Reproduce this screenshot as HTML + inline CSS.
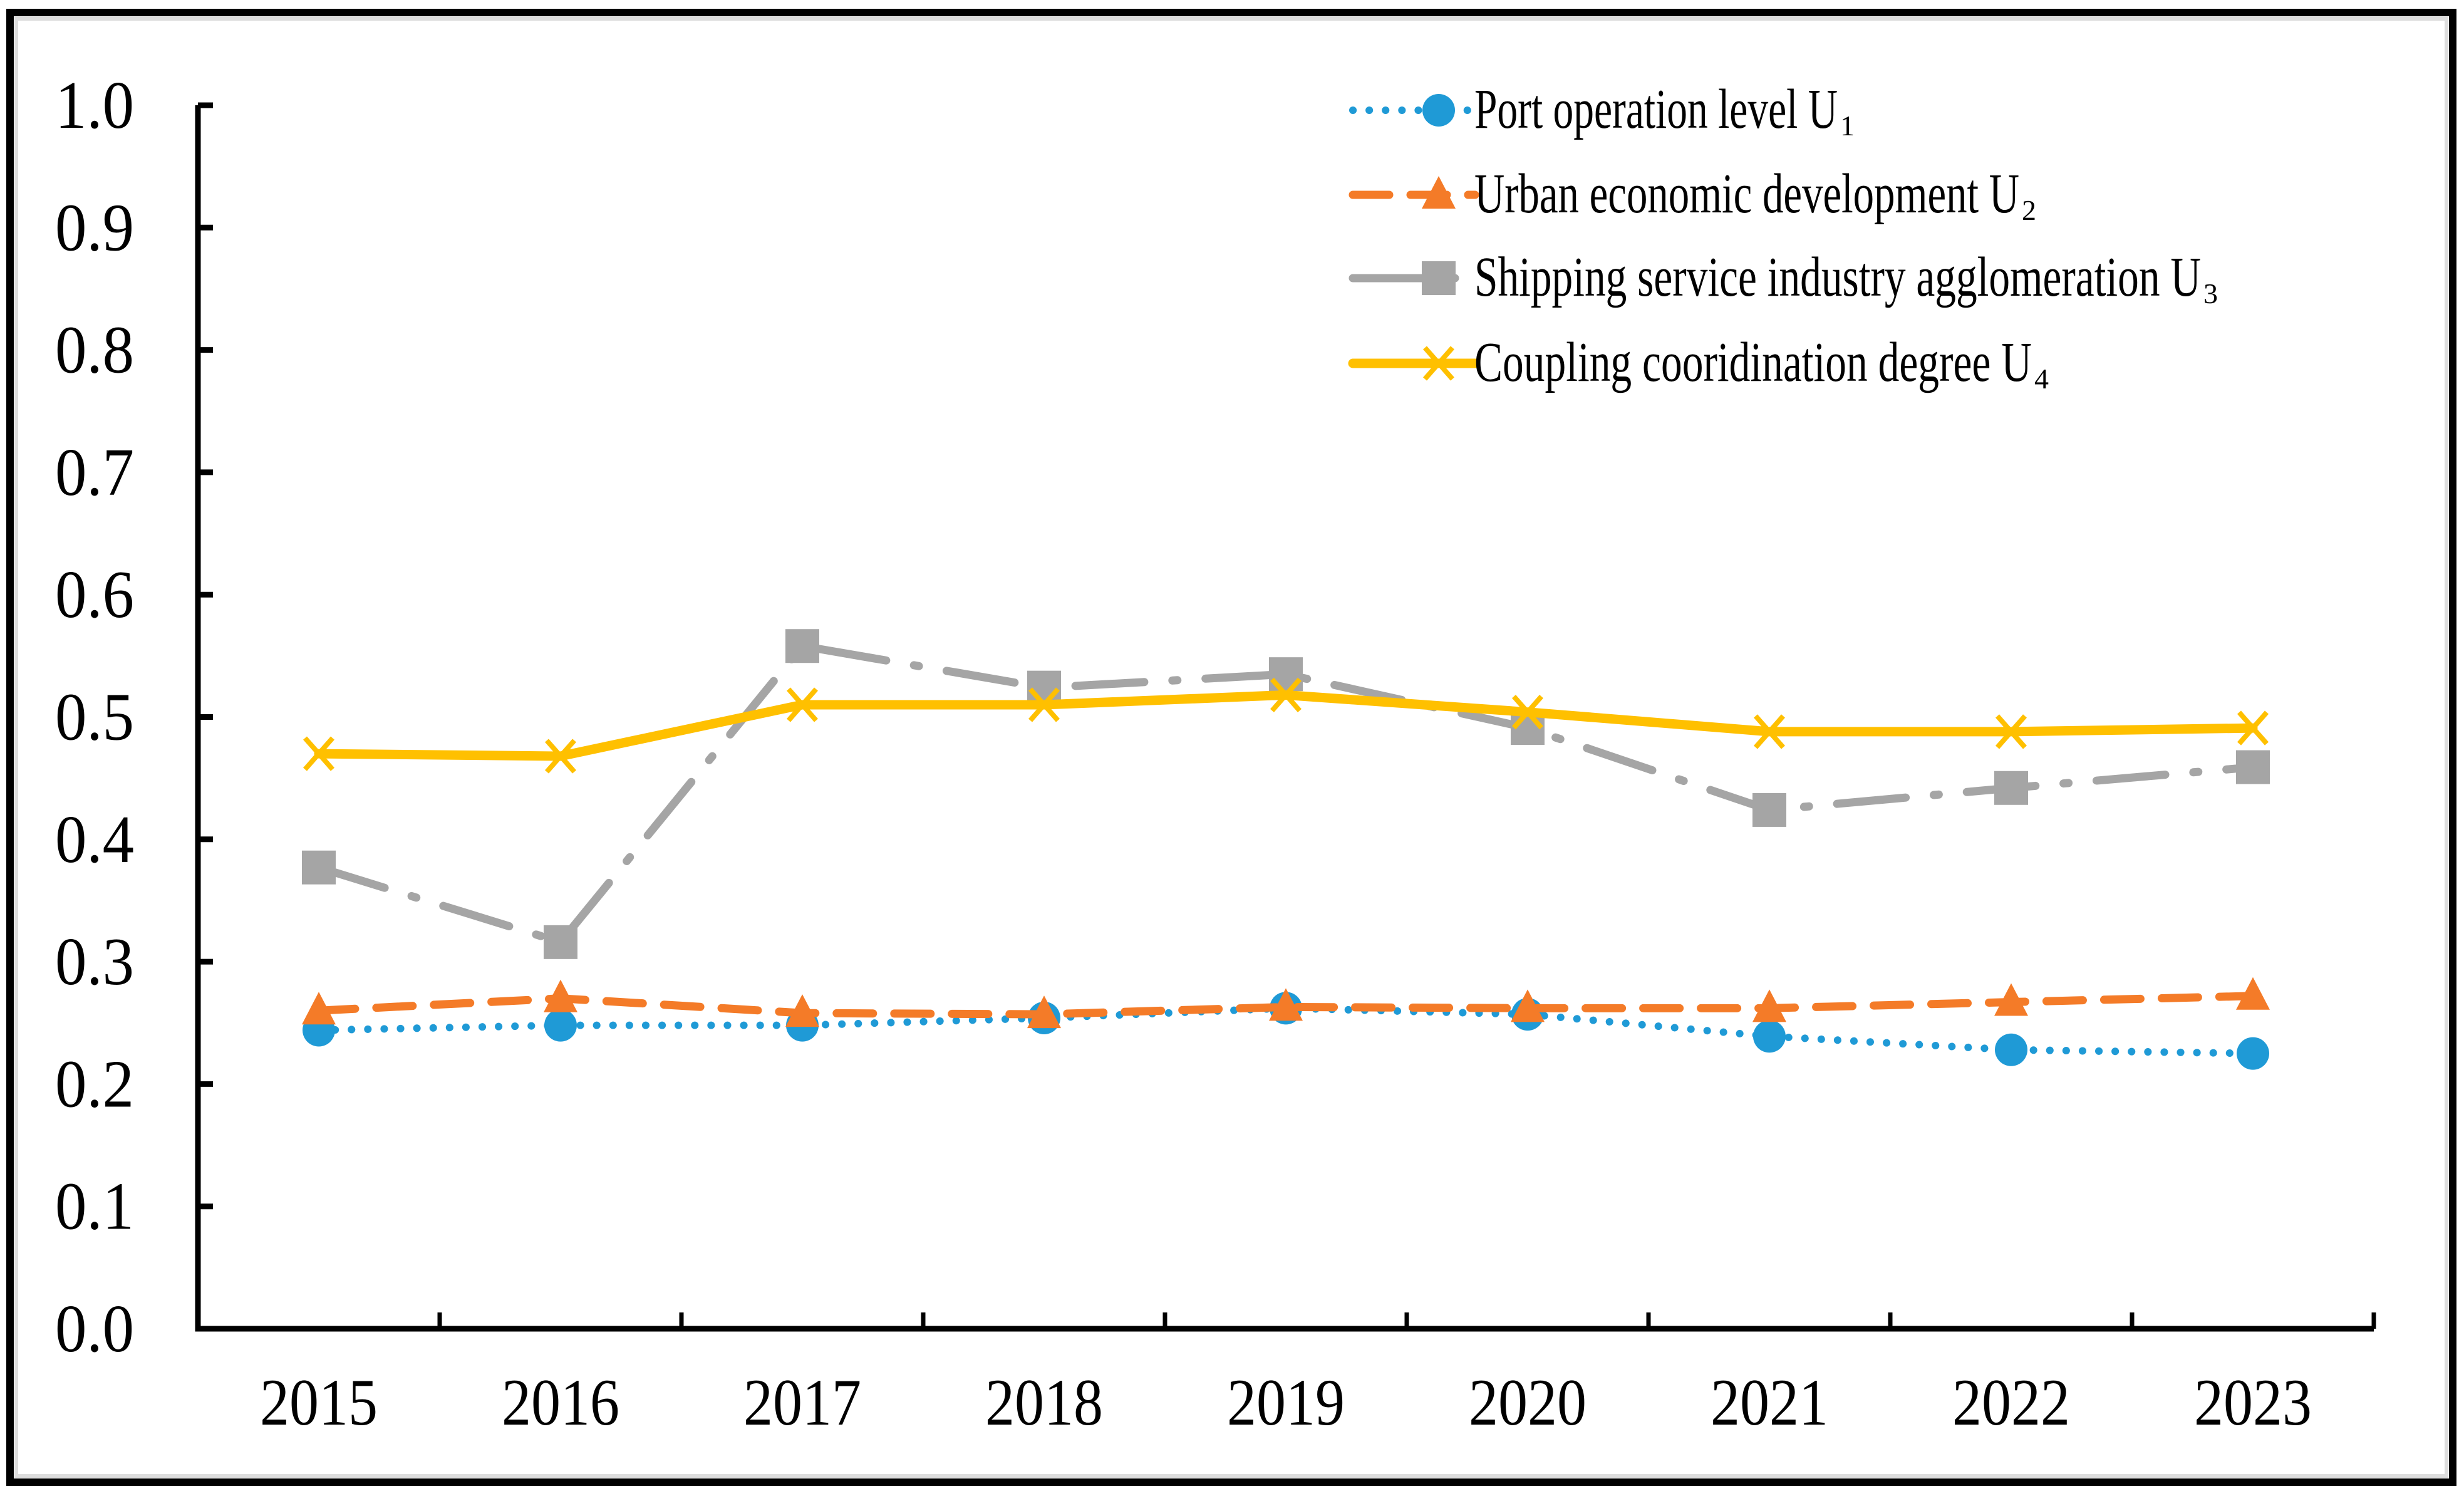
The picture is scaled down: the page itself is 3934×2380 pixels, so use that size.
<!DOCTYPE html>
<html><head><meta charset="utf-8"><style>html,body{margin:0;padding:0;background:#fff}svg{display:block}</style></head>
<body>
<svg id="chart" width="3934" height="2380" viewBox="0 0 3934 2380" xmlns="http://www.w3.org/2000/svg" font-family="'Liberation Serif', serif">
<rect x="16" y="20" width="3900" height="2346" fill="#fff" stroke="#000" stroke-width="12"/>
<rect x="26" y="30" width="3880" height="2326" fill="none" stroke="#ddd" stroke-width="6"/>
<g id="axes"></g><g id="series"></g><g id="legend"></g>
</svg>
<script>
const categories=["2015","2016","2017","2018","2019","2020","2021","2022","2023"];
const yTicks=["0.0","0.1","0.2","0.3","0.4","0.5","0.6","0.7","0.8","0.9","1.0"];
const u1=[0.244,0.248,0.248,0.254,0.262,0.257,0.239,0.228,0.225];
const u2=[0.260,0.270,0.258,0.257,0.263,0.262,0.262,0.267,0.272];
const u3=[0.377,0.316,0.558,0.524,0.535,0.491,0.424,0.442,0.459];
const u4=[0.470,0.468,0.510,0.510,0.518,0.504,0.488,0.488,0.491];
const seriesNames=["Port operation level U","Urban economic development U","Shipping service industry agglomeration U","Coupling cooridination degree U"];

const NS="http://www.w3.org/2000/svg";
const X0=316,X1=3790,Y0=2121,Y1=168;
const bw=(X1-X0)/categories.length;
const xs=i=>X0+bw*(i+0.5);
const ys=v=>Y0-(v/1.0)*(Y0-Y1);
function mk(tag,attrs,parent){const e=document.createElementNS(NS,tag);for(const k in attrs)e.setAttribute(k,attrs[k]);parent.appendChild(e);return e;}
const axes=document.getElementById('axes'),ser=document.getElementById('series'),leg=document.getElementById('legend');

let a=mk('path',{d:`M${X0},${Y1} V${Y0} H${X1}`,fill:'none',stroke:'#000','stroke-width':9},axes);


yTicks.forEach((t,i)=>{const v=parseFloat(t);const y=ys(v);
 let l=mk('line',{x1:X0,x2:X0+24,y1:y,y2:y,stroke:'#000','stroke-width':9},axes);
 
 
 let tx=mk('text',{x:214,y:y+36,'text-anchor':'end','font-size':108,textLength:126,lengthAdjust:'spacingAndGlyphs'},axes);tx.textContent=t;
 
 
});
for(let i=1;i<=categories.length;i++){const x=X0+bw*i;
 let l=mk('line',{x1:x,x2:x,y1:Y0,y2:Y0-26,stroke:'#000','stroke-width':7},axes);
 
 }
categories.forEach((c,i)=>{let t=mk('text',{x:xs(i),y:2274,'text-anchor':'middle','font-size':106,textLength:188,lengthAdjust:'spacingAndGlyphs'},axes);t.textContent=c;
 
 });

const styles=[
 {data:u1,color:'#1f9ad6',w:12,dash:'0.1 26',cap:'round',m:'circle',name:'series-u1'},
 {data:u2,color:'#f47b28',w:13,dash:'58 34',cap:'round',m:'tri',name:'series-u2'},
 {data:u3,color:'#a5a5a5',w:13,dash:'110 45 8 45',cap:'round',m:'square',name:'series-u3'},
 {data:u4,color:'#ffc000',w:15,dash:'',cap:'round',m:'x',name:'series-u4'}];
function marker(type,x,y,color,parent,s){
 let e;
 if(type==='circle')e=mk('circle',{cx:x,cy:y,r:26*s,fill:color},parent);
 else if(type==='tri')e=mk('path',{d:`M${x},${y-30*s} L${x+27*s},${y+22*s} L${x-27*s},${y+22*s}Z`,fill:color},parent);
 else if(type==='square')e=mk('rect',{x:x-27*s,y:y-27*s,width:54*s,height:54*s,fill:color},parent);
 else e=mk('path',{d:`M${x-22*s},${y-25*s}L${x+22*s},${y+25*s}M${x+22*s},${y-25*s}L${x-22*s},${y+25*s}`,stroke:color,'stroke-width':8,fill:'none'},parent);
 return e;}
styles.forEach(s=>{
 const g=mk('g',{},ser);
 
 
 const d=s.data.map((v,i)=>(i?'L':'M')+xs(i)+','+ys(v)).join(' ');
 let p=mk('path',{d,fill:'none',stroke:s.color,'stroke-width':s.w,'stroke-linecap':s.cap,'stroke-linejoin':'round'},g);
 if(s.dash)p.setAttribute('stroke-dasharray',s.dash);
 
 
 s.data.forEach((v,i)=>{const m=marker(s.m,xs(i),ys(v),s.color,g,1);
  
  });
});
const legY=[176,311,444,580];
const legLen=[590,880,1170,900];
styles.forEach((s,i)=>{
 const g=mk('g',{},leg);
 
 
 const y=legY[i];
 let p=mk('line',{x1:2160,x2:2355,y1:y,y2:y,stroke:s.color,'stroke-width':s.w,'stroke-linecap':s.cap},g);
 if(s.dash)p.setAttribute('stroke-dasharray',s.dash);
 marker(s.m,2297,y,s.color,g,1);
 const t=mk('text',{x:2354,y:y+28,'font-size':90,textLength:legLen[i]-10,lengthAdjust:'spacingAndGlyphs'},g);
 t.textContent=seriesNames[i];
 const sub=mk('text',{x:2354+legLen[i]-6,y:y+40,'font-size':46},g);sub.textContent=String(i+1);
});
</script>
</body></html>
